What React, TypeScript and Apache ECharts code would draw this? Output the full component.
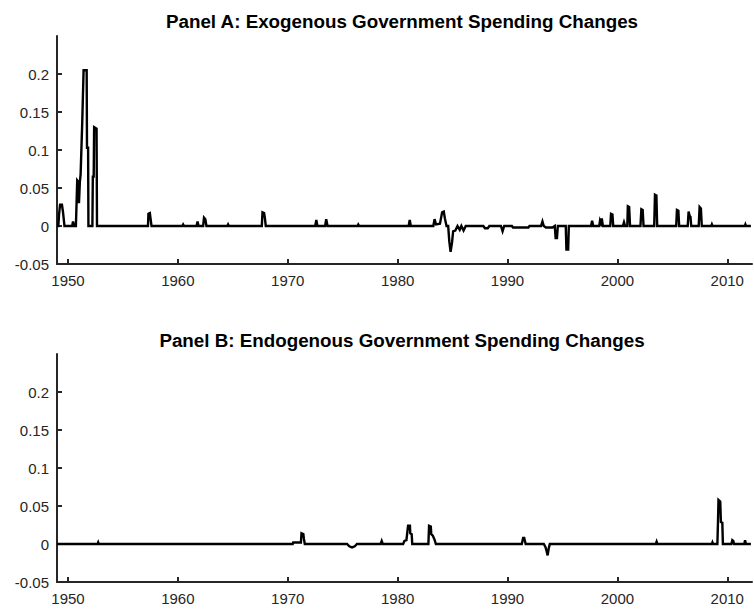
import React, { useEffect, useRef } from "react";
import * as echarts from "echarts";

// Panel A: exogenous spending changes, [year, value] vertices
const panelA: [number, number][] = [
  [1949.0, 0], [1949.12, 0], [1949.18, 0.014], [1949.28, 0.028], [1949.45, 0.028], [1949.55, 0.018], [1949.68, 0],
  [1950.38, 0], [1950.46, 0.006], [1950.55, 0],
  [1950.72, 0], [1950.78, 0.03], [1950.84, 0.06], [1950.95, 0.058], [1951.0, 0.03], [1951.08, 0.058], [1951.15, 0.068],
  [1951.3, 0.138], [1951.42, 0.205], [1951.7, 0.205], [1951.73, 0.103], [1951.83, 0.103], [1951.86, 0],
  [1952.22, 0], [1952.26, 0.065], [1952.34, 0.065], [1952.38, 0.13], [1952.6, 0.128], [1952.64, 0],
  [1957.28, 0], [1957.32, 0.016], [1957.45, 0.017], [1957.52, 0.009], [1957.6, 0],
  [1960.4, 0], [1960.48, 0.002], [1960.56, 0],
  [1961.7, 0], [1961.79, 0.006], [1961.88, 0], [1962.3, 0], [1962.38, 0.011], [1962.5, 0.009], [1962.6, 0],
  [1964.5, 0], [1964.57, 0.002], [1964.64, 0],
  [1967.64, 0], [1967.7, 0.018], [1967.85, 0.017], [1967.93, 0.009], [1968.0, 0],
  [1972.5, 0], [1972.6, 0.008], [1972.7, 0], [1973.4, 0], [1973.5, 0.009], [1973.62, 0],
  [1976.35, 0], [1976.42, 0.002], [1976.5, 0],
  [1981.0, 0], [1981.1, 0.008], [1981.2, 0],
  [1983.25, 0], [1983.36, 0.009], [1983.5, 0.002], [1983.85, 0.003], [1984.05, 0.018], [1984.2, 0.019], [1984.3, 0.01],
  [1984.45, 0], [1984.6, 0], [1984.7, -0.02], [1984.82, -0.034], [1984.95, -0.022], [1985.05, -0.007], [1985.25, -0.006],
  [1985.45, 0], [1985.65, -0.005], [1985.8, 0], [1986.0, -0.006], [1986.2, 0],
  [1987.8, 0], [1987.95, -0.003], [1988.2, -0.003], [1988.35, 0],
  [1989.4, 0], [1989.55, -0.007], [1989.7, 0],
  [1990.4, 0], [1990.5, -0.002], [1991.9, -0.002], [1992.0, 0],
  [1993.05, 0], [1993.18, 0.006], [1993.3, 0], [1993.5, -0.002], [1994.1, -0.002], [1994.3, 0],
  [1994.38, -0.016], [1994.5, -0.016], [1994.58, 0],
  [1995.3, 0], [1995.36, -0.031], [1995.52, -0.031], [1995.58, 0],
  [1997.6, 0], [1997.7, 0.007], [1997.8, 0],
  [1998.35, 0], [1998.42, 0.007], [1998.5, 0.004], [1998.58, 0.01], [1998.68, 0],
  [1999.35, 0], [1999.42, 0.016], [1999.55, 0.015], [1999.62, 0],
  [2000.5, 0], [2000.6, 0.005], [2000.7, 0], [2000.9, 0], [2000.95, 0.026], [2001.07, 0.025], [2001.15, 0],
  [2002.1, 0], [2002.18, 0.022], [2002.3, 0.021], [2002.38, 0],
  [2003.35, 0], [2003.42, 0.041], [2003.55, 0.04], [2003.62, 0],
  [2005.35, 0], [2005.42, 0.021], [2005.55, 0.02], [2005.62, 0],
  [2006.4, 0], [2006.48, 0.019], [2006.58, 0.013], [2006.65, 0.012], [2006.72, 0],
  [2007.4, 0], [2007.48, 0.025], [2007.6, 0.023], [2007.68, 0],
  [2008.55, 0], [2008.6, 0.002], [2008.65, 0],
  [2011.6, 0], [2011.65, 0.002], [2011.7, 0], [2012.15, 0],
];

// Panel B: endogenous spending changes
const panelB: [number, number][] = [
  [1949.0, 0], [1952.7, 0], [1952.75, 0.002], [1952.8, 0],
  [1970.45, 0], [1970.5, 0.002], [1971.2, 0.002], [1971.25, 0.014], [1971.42, 0.013], [1971.47, 0.007], [1971.55, 0],
  [1975.4, 0], [1975.6, -0.003], [1975.85, -0.0045], [1976.1, -0.003], [1976.3, 0],
  [1978.45, 0], [1978.55, 0.004], [1978.65, 0],
  [1980.5, 0], [1980.62, 0.004], [1980.8, 0.005], [1980.95, 0.024], [1981.12, 0.024], [1981.15, 0.014], [1981.28, 0.013], [1981.33, 0],
  [1982.8, 0], [1982.86, 0.024], [1983.02, 0.023], [1983.06, 0.013], [1983.2, 0.011], [1983.35, 0.006], [1983.48, 0],
  [1991.3, 0], [1991.42, 0.008], [1991.52, 0.008], [1991.65, 0],
  [1993.3, 0], [1993.45, -0.004], [1993.55, -0.009], [1993.65, -0.015], [1993.75, -0.006], [1993.85, 0],
  [2003.5, 0], [2003.57, 0.003], [2003.64, 0],
  [2008.6, 0], [2008.65, 0.002], [2008.7, 0],
  [2009.1, 0], [2009.15, 0.027], [2009.2, 0.058], [2009.36, 0.056], [2009.42, 0.029], [2009.55, 0.028], [2009.6, 0],
  [2010.38, 0], [2010.46, 0.005], [2010.55, 0.004], [2010.62, 0],
  [2011.55, 0], [2011.62, 0.005], [2011.7, 0], [2012.15, 0],
];

const xTicks = [1950, 1960, 1970, 1980, 1990, 2000, 2010];
const yTicks = [-0.05, 0, 0.05, 0.1, 0.15, 0.2];
const titles = [
  "Panel A: Exogenous Government Spending Changes",
  "Panel B: Endogenous Government Spending Changes",
];

const FONT = '"Liberation Sans", Arial, sans-serif';
const AXIS_COLOR = "#262626";

export default function App() {
  const ref = useRef<HTMLDivElement>(null);
  useEffect(() => {
    if (!ref.current) return;
    const chart = echarts.init(ref.current, undefined, { renderer: "svg" });
    const grids = [
      { left: 57, top: 36, width: 695, height: 228 },
      { left: 57, top: 354, width: 695, height: 228 },
    ];
    const mkX = (i: number) => ({
      type: "value",
      gridIndex: i,
      min: 1949,
      max: 2012.25,
      axisLine: { show: true, onZero: false, lineStyle: { color: AXIS_COLOR, width: 2 } },
      axisTick: { show: true, inside: true, length: 5, customValues: xTicks, lineStyle: { color: AXIS_COLOR, width: 2 } },
      axisLabel: {
        customValues: xTicks,
        fontSize: 15,
        color: AXIS_COLOR,
        fontFamily: FONT,
        margin: 9,
        formatter: (v: number) => String(v),
      },
      splitLine: { show: false },
    });
    const mkY = (i: number) => ({
      type: "value",
      gridIndex: i,
      min: -0.05,
      max: 0.25,
      axisLine: { show: true, onZero: false, lineStyle: { color: AXIS_COLOR, width: 2 } },
      axisTick: { show: true, inside: true, length: 5, customValues: yTicks, lineStyle: { color: AXIS_COLOR, width: 2 } },
      axisLabel: {
        customValues: yTicks,
        fontSize: 15,
        color: AXIS_COLOR,
        fontFamily: FONT,
        margin: 8,
        formatter: (v: number) => String(v),
      },
      splitLine: { show: false },
    });
    const mkSeries = (i: number, data: [number, number][]) => ({
      type: "line",
      xAxisIndex: i,
      yAxisIndex: i,
      data,
      showSymbol: false,
      symbol: "none",
      lineStyle: { color: "#000", width: 2.4, join: "miter" },
      clip: false,
    });
    chart.setOption({
      animation: false,
      backgroundColor: "#fff",
      grid: grids,
      xAxis: [mkX(0), mkX(1)],
      yAxis: [mkY(0), mkY(1)],
      series: [mkSeries(0, panelA), mkSeries(1, panelB)],
      graphic: titles.map((t, i) => ({
        type: "text",
        x: 402,
        y: i === 0 ? 21 : 340,
        style: {
          text: t,
          fill: "#000",
          fontSize: 18.8,
          fontWeight: "bold",
          fontFamily: FONT,
          align: "center",
          verticalAlign: "middle",
          textAlign: "center",
          textVerticalAlign: "middle",
        },
      })),
    });
    return () => chart.dispose();
  }, []);
  return (
    <div
      ref={ref}
      style={{ position: "fixed", left: 0, top: 0, width: 754, height: 614 }}
    />
  );
}
